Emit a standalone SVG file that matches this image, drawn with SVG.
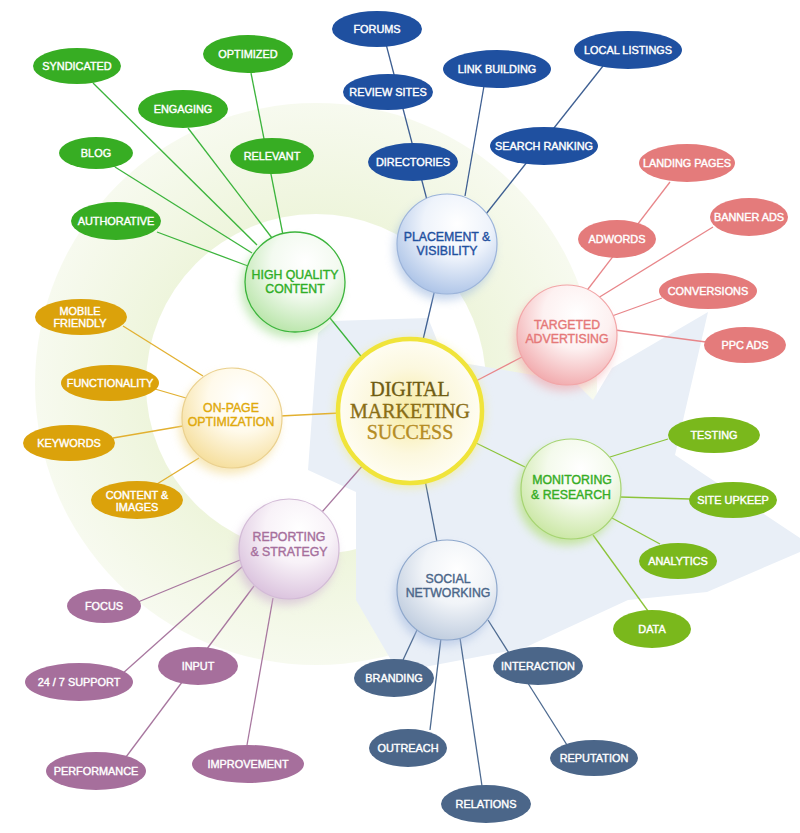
<svg xmlns="http://www.w3.org/2000/svg" width="800" height="833" viewBox="0 0 800 833">
<style>
.lf{font-family:"Liberation Sans",Arial,sans-serif;font-size:10.9px;fill:#fff;stroke:#fff;stroke-width:0.4;text-anchor:middle}
.sc{font-family:"Liberation Sans",Arial,sans-serif;font-size:12.3px;text-anchor:middle;stroke-width:0.4}
.ct{font-family:"Liberation Serif","Times New Roman",serif;font-size:20px;text-anchor:middle;stroke-width:0.35}
.g{fill:#37ad23}.b{fill:#1f50a0}.r{fill:#e47b7b}.y{fill:#dba20b}.l{fill:#7ab81c}.s{fill:#4b6689}.p{fill:#a66f9c}
.cg line{stroke:#3cb43c}.cb line{stroke:#3e5f92}.cr line{stroke:#e8868a}.cy line{stroke:#e2b030}.cl line{stroke:#8cc43a}.cs line{stroke:#4d6a90}.cp line{stroke:#a8779f}
#connectors line{stroke-width:1.3}
</style>
<defs>
<radialGradient id="ringG" gradientUnits="userSpaceOnUse" cx="316" cy="384" r="281">
<stop offset="0.6" stop-color="#eef5dc"/><stop offset="1" stop-color="#f7faef"/>
</radialGradient>
<filter id="blur" x="-50%" y="-50%" width="200%" height="200%"><feGaussianBlur stdDeviation="5"/></filter>
<radialGradient id="gG" cx="0.6" cy="0.3" r="0.75"><stop offset="0" stop-color="#fff"/><stop offset="0.45" stop-color="#f3faf0"/><stop offset="1" stop-color="#b6e4a6"/></radialGradient>
<radialGradient id="gB" cx="0.6" cy="0.3" r="0.75"><stop offset="0" stop-color="#fff"/><stop offset="0.45" stop-color="#eef3fb"/><stop offset="1" stop-color="#a9c1e6"/></radialGradient>
<radialGradient id="gR" cx="0.6" cy="0.3" r="0.75"><stop offset="0" stop-color="#fff"/><stop offset="0.45" stop-color="#fdf1f1"/><stop offset="1" stop-color="#f1a7aa"/></radialGradient>
<radialGradient id="gY" cx="0.6" cy="0.3" r="0.75"><stop offset="0" stop-color="#fff"/><stop offset="0.45" stop-color="#fffaeb"/><stop offset="1" stop-color="#f5dd98"/></radialGradient>
<radialGradient id="gL" cx="0.6" cy="0.3" r="0.75"><stop offset="0" stop-color="#fff"/><stop offset="0.45" stop-color="#f4faec"/><stop offset="1" stop-color="#c8e6a0"/></radialGradient>
<radialGradient id="gS" cx="0.6" cy="0.3" r="0.75"><stop offset="0" stop-color="#fff"/><stop offset="0.45" stop-color="#f1f4f8"/><stop offset="1" stop-color="#bccadd"/></radialGradient>
<radialGradient id="gP" cx="0.6" cy="0.3" r="0.75"><stop offset="0" stop-color="#fff"/><stop offset="0.45" stop-color="#f8f2f8"/><stop offset="1" stop-color="#d9c0dc"/></radialGradient>
<radialGradient id="gC" cx="0.5" cy="0.5" r="0.55"><stop offset="0" stop-color="#f6eba2"/><stop offset="0.55" stop-color="#fcf8df"/><stop offset="1" stop-color="#fffef7"/></radialGradient>
</defs>
<rect width="800" height="833" fill="#fff"/>
<g id="background">
<path d="M35,384a281,281 0 1,0 562,0a281,281 0 1,0 -562,0ZM146,384a170,170 0 1,0 340,0a170,170 0 1,0 -340,0Z" fill="url(#ringG)" fill-rule="evenodd"/>
<path d="M318,333L332,321L428,318L445,360L575,382L593,400L612,368L708,312L675,455L800,538L800,552L707,592L628,600L524,648L398,672L356,600L356,492L308,470Z" fill="#e9eff7"/>
</g>
<g id="connectors">
<g class="cg">
<line x1="93" y1="83" x2="257" y2="245"/><line x1="188" y1="128" x2="272" y2="238"/><line x1="251" y1="73" x2="283" y2="235"/><line x1="115" y1="167" x2="252" y2="253"/><line x1="157" y1="232" x2="248" y2="266"/><line x1="330" y1="318" x2="364" y2="360"/>
</g>
<g class="cb">
<line x1="386" y1="44" x2="427" y2="200"/><line x1="484" y1="86" x2="465" y2="196"/><line x1="603" y1="66" x2="486" y2="214"/><line x1="435" y1="289" x2="422" y2="344"/>
</g>
<g class="cr">
<line x1="670" y1="182" x2="585" y2="293"/><line x1="713" y1="227" x2="598" y2="298"/><line x1="662" y1="298" x2="612" y2="316"/><line x1="706" y1="342" x2="615" y2="330"/><line x1="474" y1="382" x2="522" y2="357"/>
</g>
<g class="cy">
<line x1="123" y1="326" x2="203" y2="376"/><line x1="155" y1="389" x2="186" y2="398"/><line x1="113" y1="438" x2="183" y2="426"/><line x1="157" y1="484" x2="199" y2="458"/><line x1="280" y1="416" x2="340" y2="413"/>
</g>
<g class="cl">
<line x1="668" y1="439" x2="610" y2="457"/><line x1="690" y1="499" x2="620" y2="497"/><line x1="660" y1="544" x2="612" y2="518"/><line x1="648" y1="611" x2="593" y2="535"/><line x1="474" y1="442" x2="525" y2="467"/>
</g>
<g class="cs">
<line x1="403" y1="660" x2="417" y2="630"/><line x1="430" y1="730" x2="441" y2="638"/><line x1="482" y1="786" x2="460" y2="638"/><line x1="567" y1="745" x2="488" y2="620"/><line x1="425" y1="480" x2="437" y2="542"/>
</g>
<g class="cp">
<line x1="138" y1="602" x2="240" y2="560"/><line x1="122" y1="674" x2="243" y2="566"/><line x1="126" y1="757" x2="254" y2="586"/><line x1="247" y1="745" x2="273" y2="598"/><line x1="322" y1="512" x2="364" y2="464"/>
</g>
</g>

<g id="n-syndicated"><ellipse class="g" cx="77" cy="66" rx="44" ry="18"/><text class="lf" x="77" y="70">SYNDICATED</text></g>
<g id="n-optimized"><ellipse class="g" cx="248" cy="54" rx="45" ry="19"/><text class="lf" x="248" y="58">OPTIMIZED</text></g>
<g id="n-engaging"><ellipse class="g" cx="183" cy="109" rx="45" ry="19"/><text class="lf" x="183" y="113">ENGAGING</text></g>
<g id="n-blog"><ellipse class="g" cx="96" cy="153" rx="37" ry="16"/><text class="lf" x="96" y="157">BLOG</text></g>
<g id="n-relevant"><ellipse class="g" cx="272" cy="156" rx="42" ry="18"/><text class="lf" x="272" y="160">RELEVANT</text></g>
<g id="n-authorative"><ellipse class="g" cx="116" cy="221" rx="45" ry="19"/><text class="lf" x="116" y="225">AUTHORATIVE</text></g>

<g id="n-forums"><ellipse class="b" cx="377" cy="29" rx="45" ry="18"/><text class="lf" x="377" y="33">FORUMS</text></g>
<g id="n-reviewsites"><ellipse class="b" cx="388" cy="92" rx="45" ry="18"/><text class="lf" x="388" y="96">REVIEW SITES</text></g>
<g id="n-linkbuilding"><ellipse class="b" cx="497" cy="69" rx="54" ry="19"/><text class="lf" x="497" y="73">LINK BUILDING</text></g>
<g id="n-locallistings"><ellipse class="b" cx="628" cy="50" rx="54" ry="19"/><text class="lf" x="628" y="54">LOCAL LISTINGS</text></g>
<g id="n-searchranking"><ellipse class="b" cx="544" cy="146" rx="54" ry="19"/><text class="lf" x="544" y="150">SEARCH RANKING</text></g>
<g id="n-directories"><ellipse class="b" cx="413" cy="162" rx="45" ry="19"/><text class="lf" x="413" y="166">DIRECTORIES</text></g>

<g id="n-landingpages"><ellipse class="r" cx="687" cy="163" rx="48" ry="19"/><text class="lf" x="687" y="167">LANDING PAGES</text></g>
<g id="n-bannerads"><ellipse class="r" cx="749" cy="217" rx="39" ry="19"/><text class="lf" x="749" y="221">BANNER ADS</text></g>
<g id="n-adwords"><ellipse class="r" cx="617" cy="239" rx="39" ry="19"/><text class="lf" x="617" y="243">ADWORDS</text></g>
<g id="n-conversions"><ellipse class="r" cx="708" cy="291" rx="49" ry="18"/><text class="lf" x="708" y="295">CONVERSIONS</text></g>
<g id="n-ppcads"><ellipse class="r" cx="745" cy="345" rx="41" ry="18"/><text class="lf" x="745" y="349">PPC ADS</text></g>

<g id="n-mobile"><ellipse class="y" cx="81" cy="317" rx="46" ry="18"/><text class="lf" x="80" y="315">MOBILE</text><text class="lf" x="80" y="327">FRIENDLY</text></g>
<g id="n-functionality"><ellipse class="y" cx="110" cy="383" rx="49" ry="18"/><text class="lf" x="110" y="387">FUNCTIONALITY</text></g>
<g id="n-keywords"><ellipse class="y" cx="69" cy="443" rx="46" ry="18"/><text class="lf" x="69" y="447">KEYWORDS</text></g>
<g id="n-contentimages"><ellipse class="y" cx="137" cy="500" rx="46" ry="19"/><text class="lf" x="137" y="499">CONTENT &amp;</text><text class="lf" x="137" y="511">IMAGES</text></g>

<g id="n-testing"><ellipse class="l" cx="714" cy="435" rx="46" ry="18"/><text class="lf" x="714" y="439">TESTING</text></g>
<g id="n-siteupkeep"><ellipse class="l" cx="733" cy="500" rx="44" ry="18"/><text class="lf" x="733" y="504">SITE UPKEEP</text></g>
<g id="n-analytics"><ellipse class="l" cx="678" cy="561" rx="39" ry="18"/><text class="lf" x="678" y="565">ANALYTICS</text></g>
<g id="n-data"><ellipse class="l" cx="652" cy="629" rx="39" ry="19"/><text class="lf" x="652" y="633">DATA</text></g>

<g id="n-branding"><ellipse class="s" cx="394" cy="678" rx="40" ry="19"/><text class="lf" x="394" y="682">BRANDING</text></g>
<g id="n-interaction"><ellipse class="s" cx="538" cy="666" rx="45" ry="19"/><text class="lf" x="538" y="670">INTERACTION</text></g>
<g id="n-outreach"><ellipse class="s" cx="408" cy="748" rx="39" ry="19"/><text class="lf" x="408" y="752">OUTREACH</text></g>
<g id="n-reputation"><ellipse class="s" cx="594" cy="758" rx="44" ry="18"/><text class="lf" x="594" y="762">REPUTATION</text></g>
<g id="n-relations"><ellipse class="s" cx="486" cy="804" rx="45" ry="19"/><text class="lf" x="486" y="808">RELATIONS</text></g>

<g id="n-focus"><ellipse class="p" cx="104" cy="606" rx="37" ry="17"/><text class="lf" x="104" y="610">FOCUS</text></g>
<g id="n-support"><ellipse class="p" cx="79" cy="682" rx="54" ry="19"/><text class="lf" x="79" y="686">24 / 7 SUPPORT</text></g>
<g id="n-input"><ellipse class="p" cx="198" cy="666" rx="40" ry="19"/><text class="lf" x="198" y="670">INPUT</text></g>
<g id="n-performance"><ellipse class="p" cx="96" cy="771" rx="50" ry="19"/><text class="lf" x="96" y="775">PERFORMANCE</text></g>
<g id="n-improvement"><ellipse class="p" cx="248" cy="764" rx="56" ry="19"/><text class="lf" x="248" y="768">IMPROVEMENT</text></g>

<g id="n-hqc">
<circle cx="291" cy="288" r="50" fill="#9fdc8c" opacity="0.6" filter="url(#blur)"/>
<circle cx="295" cy="282" r="50" fill="url(#gG)" stroke="#3cb43c" stroke-width="1.3"/>
<text class="sc" x="295" y="279" fill="#2fae26" stroke="#2fae26">HIGH QUALITY</text>
<text class="sc" x="295" y="293" fill="#2fae26" stroke="#2fae26">CONTENT</text>
</g>
<g id="n-placement">
<circle cx="444" cy="250" r="50" fill="#9fb9e0" opacity="0.6" filter="url(#blur)"/>
<circle cx="447" cy="244" r="50" fill="url(#gB)" stroke="#9cb4da" stroke-width="1.2"/>
<text class="sc" x="447" y="241" fill="#1f50a0" stroke="#1f50a0">PLACEMENT &amp;</text>
<text class="sc" x="447" y="255" fill="#1f50a0" stroke="#1f50a0">VISIBILITY</text>
</g>
<g id="n-targeted">
<circle cx="564" cy="341" r="50" fill="#f0a4a8" opacity="0.6" filter="url(#blur)"/>
<circle cx="567" cy="335" r="50" fill="url(#gR)" stroke="#f2a6a8" stroke-width="1.2"/>
<text class="sc" x="567" y="329" fill="#e57878" stroke="#e57878">TARGETED</text>
<text class="sc" x="567" y="343" fill="#e57878" stroke="#e57878">ADVERTISING</text>
</g>
<g id="n-onpage">
<circle cx="229" cy="424" r="50" fill="#f2d88a" opacity="0.6" filter="url(#blur)"/>
<circle cx="232" cy="418" r="50" fill="url(#gY)" stroke="#ead08e" stroke-width="1.2"/>
<text class="sc" x="231" y="412" fill="#e0a90c" stroke="#e0a90c">ON-PAGE</text>
<text class="sc" x="231" y="426" fill="#e0a90c" stroke="#e0a90c">OPTIMIZATION</text>
</g>
<g id="n-monitoring">
<circle cx="567" cy="495" r="50" fill="#b5e07a" opacity="0.7" filter="url(#blur)"/>
<circle cx="571" cy="489" r="50" fill="url(#gL)" stroke="#a6d472" stroke-width="1.2"/>
<text class="sc" x="572" y="484" fill="#36ad25" stroke="#36ad25">MONITORING</text>
<text class="sc" x="571" y="499" fill="#36ad25" stroke="#36ad25">&amp; RESEARCH</text>
</g>
<g id="n-social">
<circle cx="444" cy="596" r="50" fill="#a7bce0" opacity="0.6" filter="url(#blur)"/>
<circle cx="447" cy="590" r="50" fill="url(#gS)" stroke="#8fa8cc" stroke-width="1.2"/>
<text class="sc" x="448" y="583" fill="#4b6689" stroke="#4b6689">SOCIAL</text>
<text class="sc" x="448" y="597" fill="#4b6689" stroke="#4b6689">NETWORKING</text>
</g>
<g id="n-reporting">
<circle cx="286" cy="555" r="50" fill="#cfb3d3" opacity="0.6" filter="url(#blur)"/>
<circle cx="289" cy="549" r="50" fill="url(#gP)" stroke="#d2bad6" stroke-width="1.2"/>
<text class="sc" x="289" y="541" fill="#a66f9c" stroke="#a66f9c">REPORTING</text>
<text class="sc" x="289" y="556" fill="#a66f9c" stroke="#a66f9c">&amp; STRATEGY</text>
</g>
<g id="n-center">
<circle cx="410" cy="413" r="75" fill="#f2ea7a" opacity="0.5" filter="url(#blur)"/>
<circle cx="410" cy="411" r="72" fill="url(#gC)" stroke="#f0e43a" stroke-width="4.5"/>
<text class="ct" x="410" y="396" fill="#6f5c12" stroke="#6f5c12">DIGITAL</text>
<text class="ct" x="410" y="418" fill="#8a6e16" stroke="#8a6e16">MARKETING</text>
<text class="ct" x="410" y="439" fill="#b58c24" stroke="#b58c24">SUCCESS</text>
</g>
</svg>
